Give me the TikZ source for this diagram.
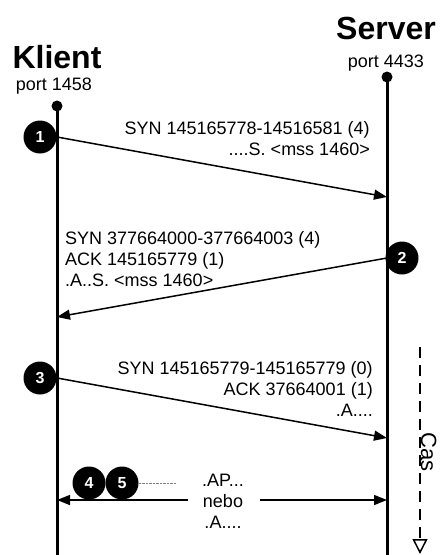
\documentclass[tikz,border=0pt]{standalone}
\usepackage{fontspec}
\setmainfont{Liberation Sans}
\usetikzlibrary{arrows.meta,positioning}
\tikzset{
  hostname/.style={
    font=\fontsize{32}{32}\selectfont\bfseries, inner sep=0pt
  },
  portlabel/.style={
    font=\fontsize{18}{18}\selectfont, inner sep=0pt
  },
  lifeline/.style={line width=3pt},
  enddot/.style={
    circle, fill=black, inner sep=0pt, minimum size=11pt
  },
  stepball/.style={
    circle, fill=black, text=white, inner sep=0pt, minimum size=33pt,
    font=\fontsize{16}{16}\selectfont\bfseries
  },
  msgarrow/.style={
    line width=1.5pt, -{Triangle[length=13pt, width=10pt]}
  },
  msglabel/.style={
    font=\fontsize{18}{21}\selectfont, inner sep=0pt
  },
  timeline/.style={
    line width=1.5pt, dash pattern=on 11pt off 7pt,
    -{Triangle[open, length=15pt, width=15pt]}
  },
}

\begin{document}
\begin{tikzpicture}[x=1pt, y=-1pt]
  \useasboundingbox (0,0) rectangle (443,555);

  % hosts
  \node[hostname] (klient) at (57,57) {Klient};
  \node[portlabel, anchor=base] (kport) at (54,90) {port 1458};
  \node[hostname] (server) at (386,28) {Server};
  \node[portlabel, anchor=base] (sport) at (386,67) {port 4433};

  \node[enddot] (kdot) at (57,106) {};
  \node[enddot] (sdot) at (387,77) {};
  \coordinate (kend) at (57,555);
  \coordinate (send) at (387,555);
  \draw[lifeline] (kdot.center) -- (kend);
  \draw[lifeline] (sdot.center) -- (send);

  % messages
  \coordinate (k1) at (57,137);
  \coordinate (s1) at (387,197);
  \coordinate (s2) at (387,258);
  \coordinate (k2) at (57,317);
  \coordinate (k3) at (57,378);
  \coordinate (s3) at (387,438);
  \draw[msgarrow] (k1) -- (s1);
  \draw[msgarrow] (s2) -- (k2);
  \draw[msgarrow] (k3) -- (s3);

  \node[stepball] (b1) at (40,137) {1};
  \node[stepball] (b2) at (402,258) {2};
  \node[stepball] (b3) at (40,378) {3};

  \node[msglabel, align=right, anchor=east] (m1) at (370,139)
    {SYN 145165778-14516581 (4)\\....S. <mss 1460>};
  \node[msglabel, align=left, anchor=west] (m2) at (65,259)
    {SYN 377664000-377664003 (4)\\ACK 145165779 (1)\\.A..S. <mss 1460>};
  \node[msglabel, align=right, anchor=east] (m3) at (373,389)
    {SYN 145165779-145165779 (0)\\ACK 37664001 (1)\\.A....};

  % data in both directions
  \node[msglabel, align=center] (m4) at (223,501) {.AP...\\nebo\\.A....};
  \coordinate (k4) at (57,500);
  \coordinate (s4) at (387,500);
  \draw[msgarrow] (m4.west |- k4) ++(-14,0) -- (k4);
  \draw[msgarrow] (m4.east |- s4) ++(16,0) -- (s4);

  \node[stepball] (b4) at (89,483) {4};
  \node[stepball] (b5) at (122,483) {5};
  \draw[gray, densely dotted, thin] (b5.east) -- ++(37,0);

  % time axis
  \coordinate (castop) at (420,347);
  \coordinate (casbot) at (420,554);
  \draw[timeline] (castop) -- (casbot);
  \node[font=\fontsize{22}{22}\selectfont, rotate=-90, anchor=base,
    inner sep=0pt] (cas) at (421,452) {Cas};
\end{tikzpicture}
\end{document}
